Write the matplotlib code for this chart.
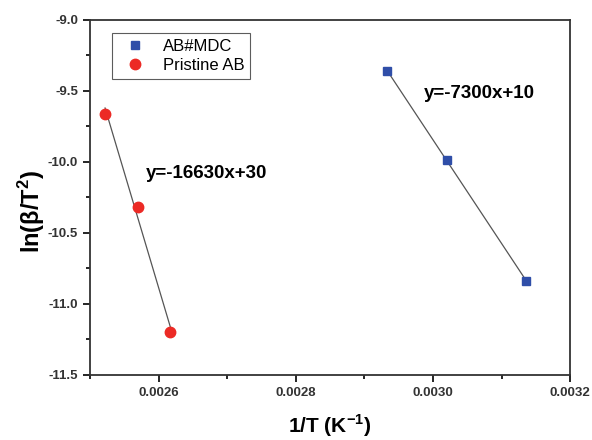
import numpy as np
import matplotlib.pyplot as plt
from matplotlib.ticker import MultipleLocator

plt.rcParams['font.family'] = ['Liberation Sans', 'DejaVu Sans']
plt.rcParams['mathtext.fontset'] = 'custom'
plt.rcParams['mathtext.rm'] = 'Liberation Sans'
plt.rcParams['mathtext.bf'] = 'Liberation Sans:bold'

# Data
x_mdc = [0.002933, 0.003021, 0.003136]
y_mdc = [-9.36, -9.99, -10.84]
x_pristine = [0.002522, 0.002570, 0.002617]
y_pristine = [-9.66, -10.32, -11.20]

fig = plt.figure(figsize=(5.92, 4.4), dpi=100)
ax = fig.add_axes([0.152, 0.148, 0.811, 0.807])

# linear fits drawn between the end points
for xs, ys in [(x_mdc, y_mdc), (x_pristine, y_pristine)]:
    k, b = np.polyfit(xs, ys, 1)
    xx = np.array([min(xs), max(xs)])
    ax.plot(xx, k * xx + b, color='#555555', lw=0.9, zorder=1)

ax.plot(x_mdc, y_mdc, 's', color='#2f4ea8', ms=6, label='AB#MDC', zorder=3)
ax.plot(x_pristine, y_pristine, 'o', color='#ec2a25', ms=7.5, label='Pristine AB', zorder=3)

ax.set_xlim(0.0025, 0.0032)
ax.set_ylim(-11.5, -9.0)
ax.xaxis.set_minor_locator(MultipleLocator(0.0001))
ax.yaxis.set_minor_locator(MultipleLocator(0.25))
ax.set_xticks([0.0026, 0.0028, 0.0030, 0.0032])
ax.set_xticklabels(['0.0026', '0.0028', '0.0030', '0.0032'])
ax.set_yticks([-11.5, -11.0, -10.5, -10.0, -9.5, -9.0])
ax.set_yticklabels(['-11.5', '-11.0', '-10.5', '-10.0', '-9.5', '-9.0'])
ax.tick_params(which='major', direction='out', length=5, width=1.2, labelsize=9.5)
ax.tick_params(which='minor', direction='out', length=3, width=1.2)
for lbl in ax.get_xticklabels() + ax.get_yticklabels():
    lbl.set_fontweight('bold')
    lbl.set_color('#333333')
for s in ax.spines.values():
    s.set_linewidth(1.3)
    s.set_color('#333333')

ax.set_xlabel('1/T (K$^{\\mathbf{-1}}$)', fontsize=15, fontweight='bold')
ax.set_ylabel('ln(β/T$^{\\mathbf{2}}$)', fontsize=17, fontweight='bold')
ax.xaxis.set_label_coords(0.5, -0.105)
ax.yaxis.set_label_coords(-0.09, 0.46)

ax.text(0.002582, -10.08, 'y=-16630x+30', fontsize=13.5, fontweight='bold', ha='left', va='center')
ax.text(0.002987, -9.52, 'y=-7300x+10', fontsize=13.5, fontweight='bold', ha='left', va='center')

leg = ax.legend(loc='upper left', bbox_to_anchor=(0.046, 0.963), borderaxespad=0, fontsize=12,
                frameon=True, fancybox=False, edgecolor='#333333', borderpad=0.35,
                handletextpad=0.7, labelspacing=0.25, handlelength=2.0)
leg.get_frame().set_linewidth(0.8)

fig.savefig('out.png', dpi=100)
